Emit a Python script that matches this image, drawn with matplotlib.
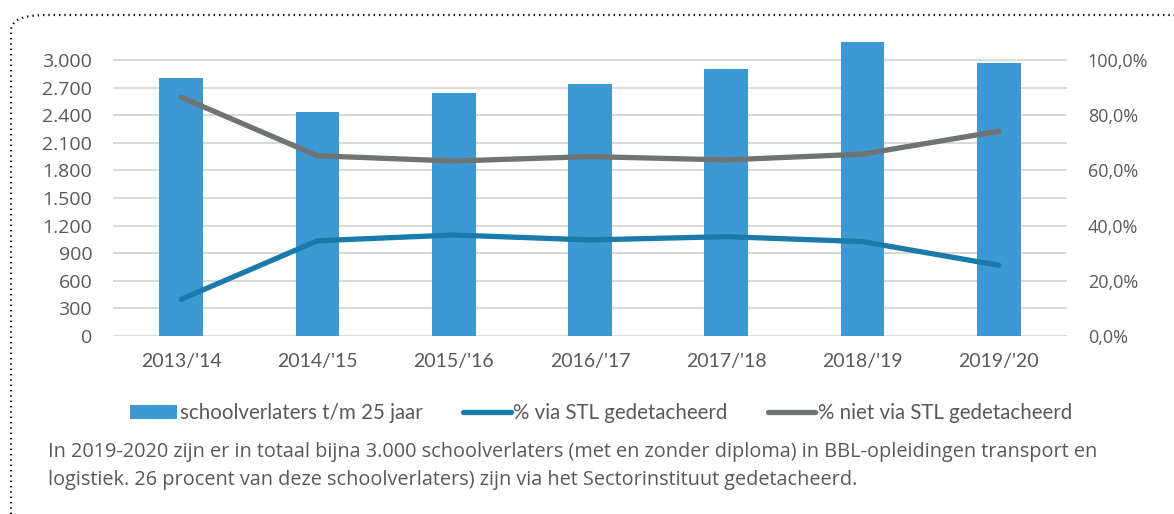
import matplotlib.pyplot as plt
import matplotlib.ticker as mticker
from matplotlib.patches import FancyBboxPatch

plt.rcParams['font.family'] = ['Open Sans', 'DejaVu Sans']

jaren = ["2013/'14", "2014/'15", "2015/'16", "2016/'17", "2017/'18", "2018/'19", "2019/'20"]
schoolverlaters = [2800, 2432, 2641, 2739, 2899, 3199, 2964]
via_stl = [0.133, 0.345, 0.366, 0.348, 0.360, 0.342, 0.256]
niet_via_stl = [0.865, 0.653, 0.634, 0.650, 0.638, 0.659, 0.742]

bar_kleur = '#3e98d3'
blauw = '#1a7aaa'
grijs = '#6f7473'
tekst = '#595959'
raster = '#d9d9d9'

W, H = 1174, 514
fig = plt.figure(figsize=(W / 100, H / 100), dpi=100)
ax = fig.add_axes([113 / W, 1 - 336 / H, (1067 - 113) / W, (336 - 32.4) / H])

x = list(range(len(jaren)))
ax.bar(x, schoolverlaters, width=0.32, color=bar_kleur, zorder=2,
       label='schoolverlaters t/m 25 jaar')
ax.set_xlim(-0.5, len(jaren) - 0.5)
ax.set_ylim(0, 3300)
ax.set_yticks(range(0, 3001, 300))
ax.yaxis.set_major_formatter(mticker.FuncFormatter(lambda v, p: f'{int(v):,}'.replace(',', '.')))
ax.set_xticks(x)
ax.set_xticklabels(jaren, family=['Lato', 'DejaVu Sans'], fontsize=14)
for yv in range(0, 3001, 300):
    ax.axhline(yv, color=raster, lw=1.4, zorder=1)

ax2 = ax.twinx()
ax2.plot(x, via_stl, color=blauw, lw=3.8, solid_capstyle='round', zorder=3,
         label='% via STL gedetacheerd')
ax2.plot(x, niet_via_stl, color=grijs, lw=3.8, solid_capstyle='round', zorder=3,
         label='% niet via STL gedetacheerd')
ax2.set_ylim(0, 1.1)
ax2.set_yticks([0, 0.2, 0.4, 0.6, 0.8, 1.0])
ax2.yaxis.set_major_formatter(mticker.FuncFormatter(lambda v, p: f'{v * 100:.1f}%'.replace('.', ',')))

for s in list(ax.spines.values()) + list(ax2.spines.values()):
    s.set_visible(False)
ax.tick_params(axis='x', length=0, colors=tekst, pad=12)
ax.tick_params(axis='y', length=0, colors=tekst, labelsize=14, pad=15)
ax2.tick_params(axis='y', length=0, colors=tekst, labelsize=13, pad=15)

h1, l1 = ax.get_legend_handles_labels()
h2, l2 = ax2.get_legend_handles_labels()
fig.legend(h1 + h2, l1 + l2, loc='center', bbox_to_anchor=(601 / W, 1 - 413 / H), ncol=3,
           frameon=False, prop={'family': ['Lato', 'DejaVu Sans'], 'size': 14.8},
           labelcolor=tekst, handlelength=2.3, handletextpad=0.1, columnspacing=2.0)

caption = ('In 2019-2020 zijn er in totaal bijna 3.000 schoolverlaters (met en zonder diploma) in BBL-opleidingen transport en\n'
           'logistiek. 26 procent van deze schoolverlaters) zijn via het Sectorinstituut gedetacheerd.')
fig.text(48 / W, 1 - 442 / H, caption, ha='left', va='top', fontsize=14.3, color=tekst, linespacing=1.5)

rand = FancyBboxPatch((11 / W, -0.2), 1.3, 1.2 - 15 / H, boxstyle='round,pad=0,rounding_size=0.03',
                      transform=fig.transFigure, fill=False, ec='black', lw=1.6, ls=(0, (0.6, 1.8)),
                      clip_on=False)
fig.patches.append(rand)

fig.savefig('out.png', dpi=100)
